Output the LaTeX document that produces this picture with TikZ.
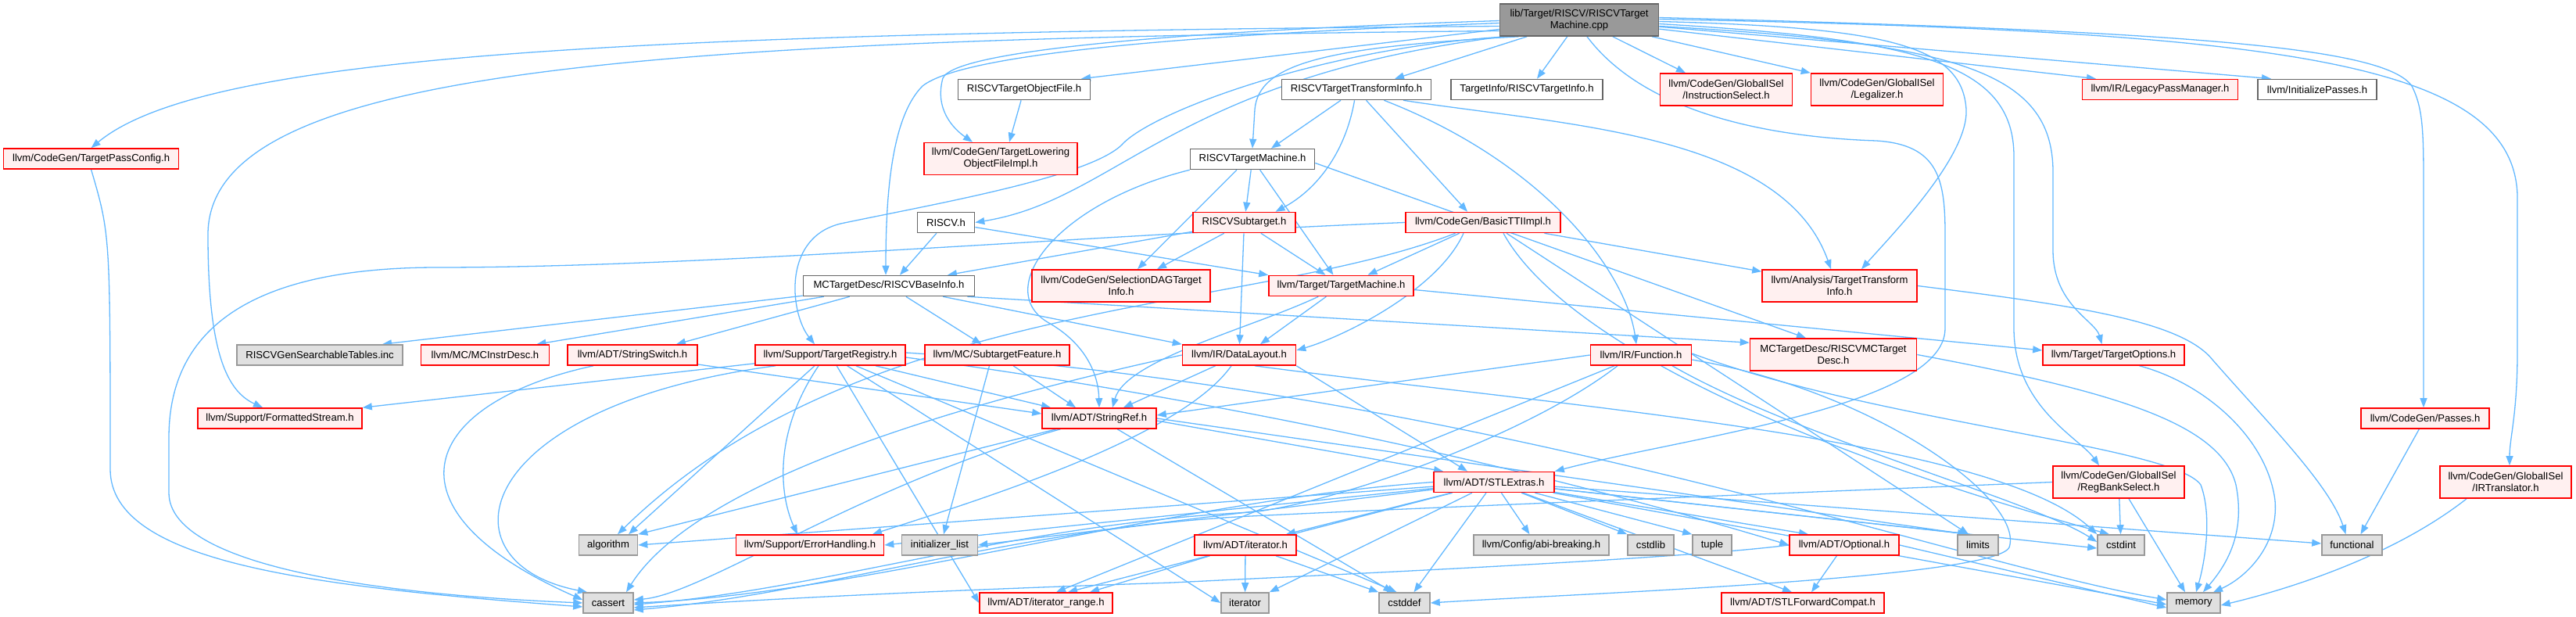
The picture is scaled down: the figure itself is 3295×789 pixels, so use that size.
\documentclass[tikz,border=0pt]{standalone}
\usepackage{fontspec}
\setmainfont{Liberation Sans}
\usetikzlibrary{arrows.meta}
\definecolor{edgec}{HTML}{63B8FF}
\definecolor{redfill}{HTML}{FFF0F0}
\definecolor{grayfill}{HTML}{E0E0E0}
\definecolor{rootfill}{HTML}{999999}
\definecolor{greyforty}{HTML}{666666}
\definecolor{greysixty}{HTML}{999999}
\definecolor{redline}{HTML}{FF0000}
\pgfdeclarelayer{bg}
\pgfsetlayers{bg,main}
\tikzset{
  nbox/.style={draw, line width=1.6pt, minimum height=26pt, inner sep=0pt, align=center, font=\fontsize{13.1pt}{15pt}\selectfont},
  wbox/.style={nbox, draw=greyforty, fill=white},
  rbox/.style={nbox, draw=redline, fill=redfill},
  gbox/.style={nbox, draw=greysixty, fill=grayfill},
  rootbox/.style={nbox, draw=greyforty, fill=rootfill},
  tall/.style={minimum height=41pt},
  dep/.style={draw=edgec, line width=1.3pt, -{Triangle[length=12pt,width=9pt]}},
}
\begin{document}
\begin{tikzpicture}[x=1pt,y=-1pt]
\useasboundingbox (0,0) rectangle (3295,789);
% nodes
\node[rootbox, tall, minimum width=203pt] (root) at (2020,25.5) {lib/Target/RISCV/RISCVTarget\\Machine.cpp};
\node[wbox, minimum width=169pt] (tof) at (1310,114.5) {RISCVTargetObjectFile.h};
\node[wbox, minimum width=191pt] (ttih) at (1735,114.5) {RISCVTargetTransformInfo.h};
\node[wbox, minimum width=194pt] (tinfo) at (1953,114.5) {TargetInfo/RISCVTargetInfo.h};
\node[rbox, tall, minimum width=169pt] (isel) at (2208,114.5) {llvm/CodeGen/GlobalISel\\/InstructionSelect.h};
\node[rbox, tall, minimum width=169pt] (leg) at (2401,114.5) {llvm/CodeGen/GlobalISel\\/Legalizer.h};
\node[rbox, minimum width=199pt] (lpm) at (2763,114.5) {llvm/IR/LegacyPassManager.h};
\node[wbox, minimum width=152pt] (ip) at (2964,114.5) {llvm/InitializePasses.h};
\node[rbox, minimum width=224pt] (tpc) at (116.6,203) {llvm/CodeGen/TargetPassConfig.h};
\node[rbox, tall, minimum width=196pt] (tlofi) at (1280,203) {llvm/CodeGen/TargetLowering\\ObjectFileImpl.h};
\node[wbox, minimum width=159pt] (tmh) at (1602,203.5) {RISCVTargetMachine.h};
\node[wbox, minimum width=73pt] (riscvh) at (1210,284.5) {RISCV.h};
\node[rbox, minimum width=131pt] (sub) at (1591.5,284.5) {RISCVSubtarget.h};
\node[rbox, minimum width=198pt] (btti) at (1897,284.5) {llvm/CodeGen/BasicTTIImpl.h};
\node[wbox, minimum width=219pt] (base) at (1137,365.5) {MCTargetDesc/RISCVBaseInfo.h};
\node[rbox, tall, minimum width=228pt] (sdag) at (1434,365.5) {llvm/CodeGen/SelectionDAGTarget\\Info.h};
\node[rbox, minimum width=185pt] (tm) at (1715.5,365.5) {llvm/Target/TargetMachine.h};
\node[rbox, tall, minimum width=198pt] (atti) at (2353,365.5) {llvm/Analysis/TargetTransform\\Info.h};
\node[gbox, minimum width=212pt] (gst) at (409,454) {RISCVGenSearchableTables.inc};
\node[rbox, minimum width=164pt] (mcid) at (620.5,454) {llvm/MC/MCInstrDesc.h};
\node[rbox, minimum width=166pt] (ssw) at (809,454) {llvm/ADT/StringSwitch.h};
\node[rbox, minimum width=192pt] (treg) at (1062,454) {llvm/Support/TargetRegistry.h};
\node[rbox, minimum width=185pt] (sf) at (1275.5,454) {llvm/MC/SubtargetFeature.h};
\node[rbox, minimum width=145pt] (dl) at (1585,454) {llvm/IR/DataLayout.h};
\node[rbox, minimum width=129pt] (func) at (2099,454) {llvm/IR/Function.h};
\node[rbox, tall, minimum width=213pt] (mctd) at (2345,453.5) {MCTargetDesc/RISCVMCTarget\\Desc.h};
\node[rbox, minimum width=181pt] (topt) at (2703.5,454) {llvm/Target/TargetOptions.h};
\node[rbox, minimum width=210pt] (fs) at (358,535) {llvm/Support/FormattedStream.h};
\node[rbox, minimum width=146pt] (sref) at (1406,535) {llvm/ADT/StringRef.h};
\node[rbox, minimum width=164pt] (passes) at (3102,535) {llvm/CodeGen/Passes.h};
\node[rbox, minimum width=154pt] (stlx) at (1911,616.5) {llvm/ADT/STLExtras.h};
\node[rbox, tall, minimum width=168pt] (rbs) at (2710,616.5) {llvm/CodeGen/GlobalISel\\/RegBankSelect.h};
\node[rbox, tall, minimum width=168pt] (irt) at (3205,616.5) {llvm/CodeGen/GlobalISel\\/IRTranslator.h};
\node[gbox, minimum width=75pt] (alg) at (778,697) {algorithm};
\node[rbox, minimum width=189pt] (errh) at (1036,697) {llvm/Support/ErrorHandling.h};
\node[gbox, minimum width=97pt] (initl) at (1202,697) {initializer\_list};
\node[rbox, minimum width=130pt] (iterh) at (1593,697) {llvm/ADT/iterator.h};
\node[gbox, minimum width=173pt] (abi) at (1971.5,697) {llvm/Config/abi-breaking.h};
\node[gbox, minimum width=59pt] (cstdlib) at (2111.5,697) {cstdlib};
\node[gbox, minimum width=50pt] (tuple) at (2190,697) {tuple};
\node[rbox, minimum width=140pt] (opt) at (2359,697) {llvm/ADT/Optional.h};
\node[gbox, minimum width=52pt] (limits) at (2530,697) {limits};
\node[gbox, minimum width=60pt] (cstdint) at (2713,697) {cstdint};
\node[gbox, minimum width=77pt] (functional) at (3008.5,697) {functional};
\node[gbox, minimum width=64pt] (cassert) at (778,771) {cassert};
\node[rbox, minimum width=170pt] (iterrange) at (1338,771) {llvm/ADT/iterator\_range.h};
\node[gbox, minimum width=61pt] (iterator) at (1592.5,771) {iterator};
\node[gbox, minimum width=65pt] (cstddef) at (1796.5,771) {cstddef};
\node[rbox, minimum width=208pt] (stlfc) at (2306,771) {llvm/ADT/STLForwardCompat.h};
\node[gbox, minimum width=68pt] (memory) at (2806,771) {memory};
% edges
\begin{pgfonlayer}{bg}
% root
\draw[dep] ([yshift=-8pt]root.west) .. controls (800,42) and (260,70) .. (tpc.north);
\draw[dep] ([yshift=-14pt]root.west) .. controls (800,50) and (266,90) .. (266,300) .. controls (266,450) and (290,500) .. ([xshift=-22pt]fs.north);
\draw[dep] ([xshift=10pt]root.south west) .. controls (1700,60) and (1480,140) .. (1437,183) .. controls (1400,225) and (1200,260) .. (1080,285) .. controls (1000,300) and (1010,400) .. ([xshift=-20pt]treg.north);
\draw[dep] ([yshift=-4pt]root.west) .. controls (1500,45) and (1230,70) .. (1180,110) .. controls (1140,150) and (1133,250) .. ([xshift=-4pt]base.north);
\draw[dep] ([yshift=-1pt]root.west) .. controls (1500,40) and (1220,65) .. (1206,100) .. controls (1195,140) and (1220,165) .. ([xshift=-36pt]tlofi.north);
\draw[dep] (root) -- ([xshift=73pt]tof.north);
\draw[dep] ([xshift=25pt]root.south west) .. controls (1700,60) and (1610,80) .. (1605,140) -- (tmh.north);
\draw[dep] ([xshift=5pt]root.south west) .. controls (1500,100) and (1430,255) .. (riscvh.east);
\draw[dep] (root) -- ([xshift=49pt]ttih.north);
\draw[dep] (root) -- ([xshift=13pt]tinfo.north);
\draw[dep] (root) -- ([xshift=-52pt]isel.north);
\draw[dep] (root) -- (leg.north west);
\draw[dep] (root) -- ([xshift=-82pt]lpm.north);
\draw[dep] (root) -- ([xshift=-59pt]ip.north);
\draw[dep] ([yshift=-2pt]root.east) .. controls (2420,35) and (2510,60) .. (2515,140) .. controls (2518,200) and (2420,300) .. ([xshift=28pt]atti.north);
\draw[dep] ([xshift=10pt]root.south) .. controls (2100,140) and (2250,175) .. (2400,180) .. controls (2480,185) and (2488,230) .. (2488,300) -- (2488,420) .. controls (2488,520) and (2150,560) .. (stlx.north east);
\draw[dep] ([yshift=-5pt]root.east) .. controls (2450,50) and (2576,80) .. (2576,200) -- (2576,420) .. controls (2576,520) and (2660,560) .. ([xshift=-25pt]rbs.north);
\draw[dep] ([yshift=-8pt]root.east) .. controls (2500,55) and (2626,90) .. (2626,220) -- (2626,320) .. controls (2626,390) and (2680,410) .. ([xshift=-15pt]topt.north);
\draw[dep] ([yshift=3pt]root.east) .. controls (2800,40) and (3050,60) .. (3085,110) .. controls (3100,140) and (3100,170) .. (3100,250) -- ([xshift=-2pt]passes.north);
\draw[dep] ([yshift=1pt]root.east) .. controls (2900,40) and (3215,75) .. (3220,250) -- (3220,450) .. controls (3220,530) and (3210,560) .. ([xshift=5pt]irt.north);
% second level
\draw[dep] (tof) -- ([xshift=11pt]tlofi.north);
\draw[dep] (ttih) -- ([xshift=24pt]tmh.north);
\draw[dep] (ttih) .. controls (1720,200) and (1680,245) .. ([xshift=40pt]sub.north);
\draw[dep] (ttih) -- ([xshift=-20pt]btti.north);
\draw[dep] (ttih) .. controls (1980,210) and (2080,350) .. ([xshift=-6pt]func.north);
\draw[dep] ([xshift=60pt]ttih.south) .. controls (2000,160) and (2280,170) .. ([xshift=-11pt]atti.north);
\draw[dep] (tmh) -- (sub);
\draw[dep] ([xshift=-20pt]tmh.south) -- ([xshift=21pt]sdag.north);
\draw[dep] (tmh) -- ([xshift=-10pt]tm.north);
\draw[dep] (tmh.south west) .. controls (1350,260) and (1270,370) .. (1340,412) .. controls (1390,440) and (1405,480) .. (sref.north);
\draw[dep] ([yshift=-5pt]tmh.east) -- ([xshift=-35pt]mctd.north);
\draw[dep] (riscvh) -- ([xshift=14pt]base.north);
\draw[dep] (riscvh) -- (tm.north west);
\draw[dep] (sub) -- ([xshift=75pt]base.north);
\draw[dep] (sub) -- ([xshift=46pt]sdag.north);
\draw[dep] (sub) -- (dl);
\draw[dep] (sub) -- ([xshift=-20pt]tm.north);
% base info
\draw[dep] (base) -- ([xshift=80pt]gst.north);
\draw[dep] (base) -- ([xshift=66pt]mcid.north);
\draw[dep] (base) -- ([xshift=56pt]ssw.north);
\draw[dep] (base) -- ([xshift=-20pt]sf.north);
\draw[dep] (base) -- (dl.north west);
\draw[dep] ([xshift=-10pt]base.south east) -- ([yshift=-6pt]mctd.north west);
% basic tti
\draw[dep] (btti) -- ([xshift=34pt]tm.north);
\draw[dep] (btti) -- ([yshift=-3pt]atti.north west);
\draw[dep] ([xshift=-25pt]btti.south) .. controls (1840,370) and (1720,430) .. ([yshift=6pt]dl.east);
\draw[dep] (btti.west) .. controls (1400,300) and (900,342) .. (560,342) .. controls (280,342) and (216,450) .. (216,560) -- (216,630) .. controls (216,730) and (520,762) .. (cassert.west);
\draw[dep] (btti) .. controls (1600,400) and (1100,380) .. ([xshift=12pt]alg.north);
\draw[dep] ([xshift=26pt]btti.south) .. controls (1990,420) and (2250,560) .. ([xshift=-15pt]cstdint.north);
\draw[dep] ([xshift=30pt]btti.south) -- ([xshift=-12pt]limits.north);
% target machine
\draw[dep] (tm) -- ([xshift=27pt]dl.north);
\draw[dep] (tm) .. controls (1600,420) and (1440,460) .. ([xshift=17pt]sref.north);
\draw[dep] ([yshift=-5pt]tm.east) -- ([yshift=6pt]topt.west);
\draw[dep] (atti.east) .. controls (2650,390) and (2790,410) .. (2830,460) .. controls (2900,540) and (2980,620) .. ([xshift=-8pt]functional.north);
\draw[dep] (tpc.south) .. controls (141,300) .. (141,600) .. controls (141,720) and (400,750) .. ([yshift=-5pt]cassert.west);
% target registry
\draw[dep] (treg) -- (fs.north east);
\draw[dep] (treg) -- ([xshift=-62pt]sref.north);
\draw[dep] ([xshift=-15pt]treg.south) .. controls (985,560) and (1000,640) .. ([xshift=-16pt]errh.north);
\draw[dep] ([xshift=-20pt]treg.south) -- ([xshift=26pt]alg.north);
\draw[dep] ([xshift=-70pt]treg.south) .. controls (600,520) and (560,720) .. ([xshift=-27pt]cassert.north);
\draw[dep] (treg) -- (iterrange.west);
\draw[dep] (treg) -- (iterator.west);
\draw[dep] (treg) -- ([xshift=-10pt]cstddef.north);
\draw[dep] ([yshift=-3pt]treg.east) .. controls (1700,530) and (2100,640) .. (opt.west);
\draw[dep] ([yshift=3pt]treg.east) .. controls (1900,500) and (2500,720) .. ([yshift=4pt]memory.west);
% subtarget feature, stringswitch
\draw[dep] (sf) -- ([xshift=-30pt]sref.north);
\draw[dep] ([xshift=-10pt]sf.south) -- ([xshift=5pt]initl.north);
\draw[dep] (ssw) -- ([yshift=6pt]sref.west);
\draw[dep] ([xshift=-50pt]ssw.south) .. controls (540,515) and (480,650) .. ([yshift=4pt]cassert.west);
% data layout
\draw[dep] (dl) -- ([xshift=31pt]sref.north);
\draw[dep] (dl.south east) -- ([xshift=-34pt]stlx.north);
\draw[dep] ([xshift=-10pt]dl.south) .. controls (1510,560) and (1250,640) .. ([xshift=80pt]errh.north);
\draw[dep] (dl.west) .. controls (1300,500) and (900,600) .. ([xshift=23pt]cassert.north);
\draw[dep] ([xshift=20pt]dl.south) .. controls (2000,520) and (2550,560) .. (cstdint.north west);
% function
\draw[dep] (func.west) -- ([yshift=4pt]sref.east);
\draw[dep] (func) -- ([xshift=13pt]iterrange.north);
\draw[dep] ([xshift=-30pt]func.south) .. controls (1950,560) and (1700,645) .. (1600,655) .. controls (1300,670) and (1050,755) .. ([yshift=-2pt]cassert.east);
\draw[dep] ([yshift=-6pt]func.east) .. controls (2400,500) and (2590,640) .. (2570,700) .. controls (2550,740) and (2000,760) .. (cstddef.east);
\draw[dep] ([xshift=40pt]func.south) .. controls (2300,560) and (2600,640) .. ([yshift=4pt]cstdint.west);
\draw[dep] ([yshift=2pt]func.east) .. controls (2400,540) and (2780,570) .. (2815,620) .. controls (2830,660) and (2820,720) .. ([xshift=3pt]memory.north);
% stringref
\draw[dep] ([yshift=-3pt]sref.east) -- ([xshift=-65pt]stlx.north);
\draw[dep] (sref) -- (alg.north east);
\draw[dep] (sref) .. controls (1100,620) and (900,760) .. ([yshift=4pt]cassert.east);
\draw[dep] (sref) -- ([xshift=-15pt]cstddef.north);
\draw[dep] (sref.east) -- ([xshift=-14pt]limits.north);
% stlextras
\draw[dep] (stlx) -- ([xshift=-46pt]opt.north);
\draw[dep] (stlx) -- ([xshift=-14pt]stlfc.north);
\draw[dep] (stlx) -- ([xshift=52pt]iterh.north);
\draw[dep] (stlx) -- ([xshift=28pt]iterrange.north);
\draw[dep] (stlx) -- ([xshift=-15pt]abi.north);
\draw[dep] (stlx) -- (errh.east);
\draw[dep] (stlx) -- (alg.east);
\draw[dep] (stlx.west) .. controls (1500,640) and (1100,760) .. (cassert.east);
\draw[dep] (stlx) -- ([xshift=12pt]cstddef.north);
\draw[dep] (stlx) -- ([yshift=-4pt]cstdint.west);
\draw[dep] (stlx) -- (cstdlib.north west);
\draw[dep] (stlx) -- ([yshift=2pt]functional.west);
\draw[dep] (stlx) -- (initl.east);
\draw[dep] (stlx) -- (iterator.north east);
\draw[dep] (stlx) -- ([xshift=-10pt]limits.north);
\draw[dep] (stlx) -- ([yshift=-2pt]memory.west);
\draw[dep] (stlx) -- (tuple.north west);
% iterator, optional
\draw[dep] (iterh) -- ([xshift=56pt]iterrange.north);
\draw[dep] (iterh) -- (iterator);
\draw[dep] (iterh) -- (cstddef.north west);
\draw[dep] (opt) -- ([xshift=11pt]stlfc.north);
\draw[dep] (opt.west) .. controls (2150,715) and (1700,735) .. (1500,745) .. controls (1200,755) and (1000,765) .. ([yshift=-6pt]cassert.east);
\draw[dep] (opt.east) -- ([yshift=-6pt]memory.west);
% regbankselect and others
\draw[dep] (rbs) -- (cstdint);
\draw[dep] ([xshift=13pt]rbs.south) -- ([xshift=-11pt]memory.north);
\draw[dep] (rbs.west) .. controls (2300,630) and (1800,650) .. (1600,660) .. controls (1300,675) and (1050,760) .. ([yshift=-9pt]cassert.east);
\draw[dep] ([xshift=-50pt]irt.south) .. controls (3050,720) and (2900,760) .. ([yshift=-3pt]memory.east);
\draw[dep] (passes) -- ([xshift=11pt]functional.north);
\draw[dep] ([xshift=33pt]topt.south) .. controls (2820,490) and (2900,560) .. (2910,640) .. controls (2915,700) and (2870,740) .. ([xshift=25pt]memory.north);
\draw[dep] (mctd.east) .. controls (2700,500) and (2840,540) .. (2860,620) .. controls (2872,680) and (2850,720) .. ([xshift=12pt]memory.north);
\end{pgfonlayer}
\end{tikzpicture}
\end{document}
